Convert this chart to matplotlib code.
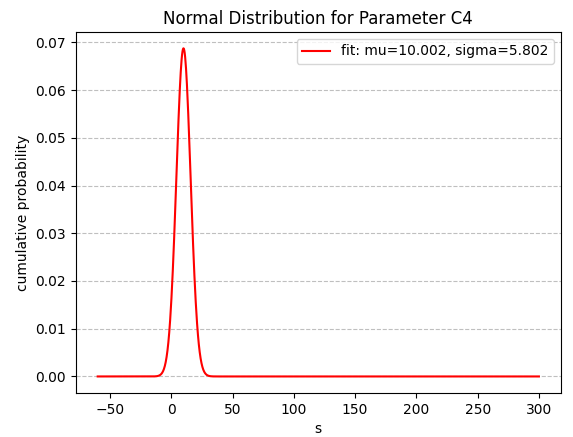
import numpy as np
import matplotlib
matplotlib.use('Agg')
import matplotlib.pyplot as plt

# Fit parameters
mu = 10.002
sigma = 5.802
x_start, x_end = -60, 300

x = np.linspace(x_start, x_end, 1000)
pdf = np.exp(-0.5 * ((x - mu) / sigma) ** 2) / (sigma * np.sqrt(2 * np.pi))

fig, ax = plt.subplots(figsize=(5.73, 4.37), dpi=100)
fig.subplots_adjust(left=0.132, right=0.979, top=0.927, bottom=0.101)

ax.plot(x, pdf, color='red', label=f'fit: mu={mu:.3f}, sigma={sigma:.3f}')
ax.set_title('Normal Distribution for Parameter C4')
ax.set_xlabel('s')
ax.set_ylabel('cumulative probability')
ax.grid(axis='y', linestyle='--', color='0.75')
ax.set_axisbelow(True)
ax.legend(loc='upper right')

fig.savefig('out.png', dpi=100)
